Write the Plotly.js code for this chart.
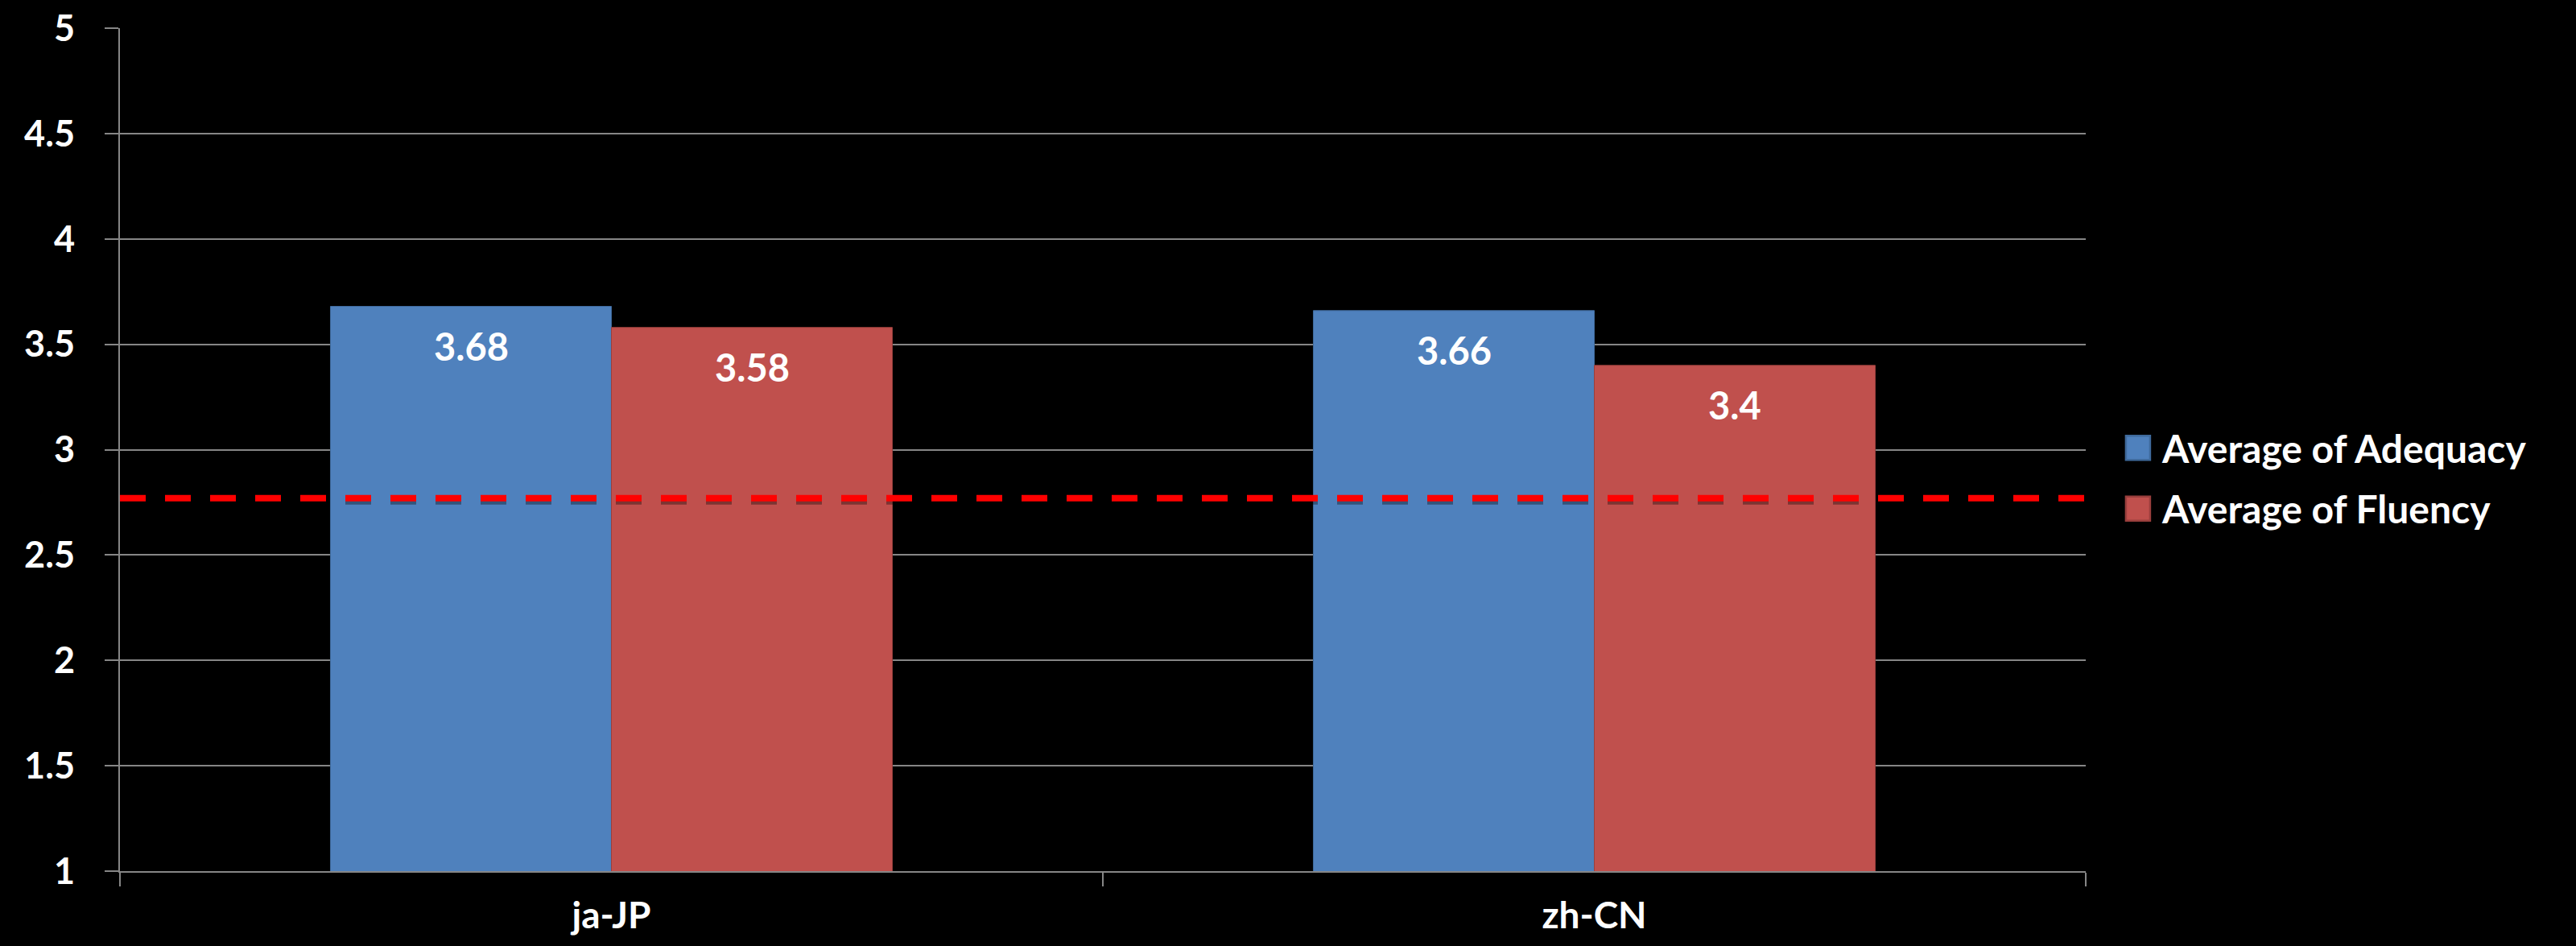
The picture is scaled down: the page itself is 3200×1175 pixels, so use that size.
<!DOCTYPE html>
<html>
<head>
<meta charset="utf-8">
<script src="https://cdn.plot.ly/plotly-3.0.1.min.js"></script>
<style>
  html, body { margin: 0; padding: 0; background: #000; }
  #chart { width: 3200px; height: 1175px; }
</style>
</head>
<body>
<div id="chart"></div>
<script>
// Average human evaluation scores per target locale
const locales = ['ja-JP', 'zh-CN'];
const adequacy = [3.68, 3.66];
const fluency = [3.58, 3.4];
const seriesNames = ['Average of Adequacy', 'Average of Fluency'];
const baselineScore = 2.77;
const yTicks = [1, 1.5, 2, 2.5, 3, 3.5, 4, 4.5, 5];

const FONT = 'Lato, "Open Sans", sans-serif';
const BLUE = '#4F81BD';
const RED = '#C0504D';
const GRID = '#868686';
const HALF_BAR_PX = 174.5;   // half of one bar's drawn width, for centring value labels

const series = [
  { name: seriesNames[0], values: adequacy, color: BLUE, edge: '#3F6A9C', group: 'adequacy' },
  { name: seriesNames[1], values: fluency, color: RED, edge: '#9A3F3D', group: 'fluency' }
];

const traces = series.map(s => ({
  type: 'bar',
  name: s.name,
  legendgroup: s.group,
  x: locales,
  y: s.values,
  marker: { color: s.color, line: { color: s.edge, width: 1 } },
  hoverinfo: 'none'
}));

// Value labels just inside the top of each bar
const annotations = [];
series.forEach((s, si) => {
  s.values.forEach((v, i) => {
    annotations.push({
      x: locales[i], y: v, xref: 'x', yref: 'y',
      text: String(v), showarrow: false,
      xshift: si === 0 ? -HALF_BAR_PX : HALF_BAR_PX,
      yanchor: 'top', yshift: -19,
      font: { family: FONT, size: 47, color: '#ffffff', weight: 'bold' }
    });
  });
});

const dashPattern = '32px,24px';
const shapes = [
  // soft drop shadow under the reference line
  { type: 'line', xref: 'paper', x0: 0, x1: 1, yref: 'y', ysizemode: 'pixel',
    yanchor: baselineScore, y0: -4, y1: -4, layer: 'above',
    line: { color: 'rgba(0,0,0,0.35)', width: 8, dash: dashPattern } },
  { type: 'line', xref: 'paper', x0: 0, x1: 1, yref: 'y',
    y0: baselineScore, y1: baselineScore, layer: 'above',
    line: { color: '#FF0000', width: 8, dash: dashPattern } }
];

const layout = {
  width: 3200, height: 1175,
  paper_bgcolor: '#000000', plot_bgcolor: '#000000',
  margin: { l: 149, r: 609, t: 35, b: 93, pad: 0 },
  barmode: 'group', bargap: 0.4283, bargroupgap: 0,
  font: { family: FONT, color: '#ffffff' },
  xaxis: {
    type: 'category', range: [-0.5, 1.5],
    showgrid: false, zeroline: false,
    showline: true, linecolor: GRID, linewidth: 2,
    ticks: 'outside', tickson: 'boundaries', ticklen: 17, tickwidth: 2, tickcolor: GRID,
    tickfont: { family: FONT, size: 46, color: '#ffffff', weight: 'bold' },
    ticklabelstandoff: 14, automargin: false
  },
  yaxis: {
    range: [1, 5], tickvals: yTicks,
    showgrid: true, gridcolor: GRID, gridwidth: 2, zeroline: false,
    showline: true, linecolor: GRID, linewidth: 2,
    ticks: 'outside', ticklen: 17, tickwidth: 2, tickcolor: GRID,
    tickfont: { family: FONT, size: 45, color: '#ffffff', weight: 'bold' },
    ticklabelstandoff: 28, automargin: false
  },
  legend: {
    x: 1.0143, xanchor: 'left', y: 0.466, yanchor: 'middle',
    bgcolor: 'rgba(0,0,0,0)', itemwidth: 50,
    traceorder: 'grouped', tracegroupgap: 10,
    font: { family: FONT, size: 48, color: '#ffffff', weight: 'bold' }
  },
  annotations: annotations,
  shapes: shapes,
  showlegend: true
};

Plotly.newPlot('chart', traces, layout, { staticPlot: true }).then(gd => {
  // enlarge the square legend swatches
  gd.querySelectorAll('.legendpoints path').forEach(p => {
    const t = p.getAttribute('transform') || '';
    p.setAttribute('transform', t + ' scale(2.5)');
  });
});
</script>
</body>
</html>
